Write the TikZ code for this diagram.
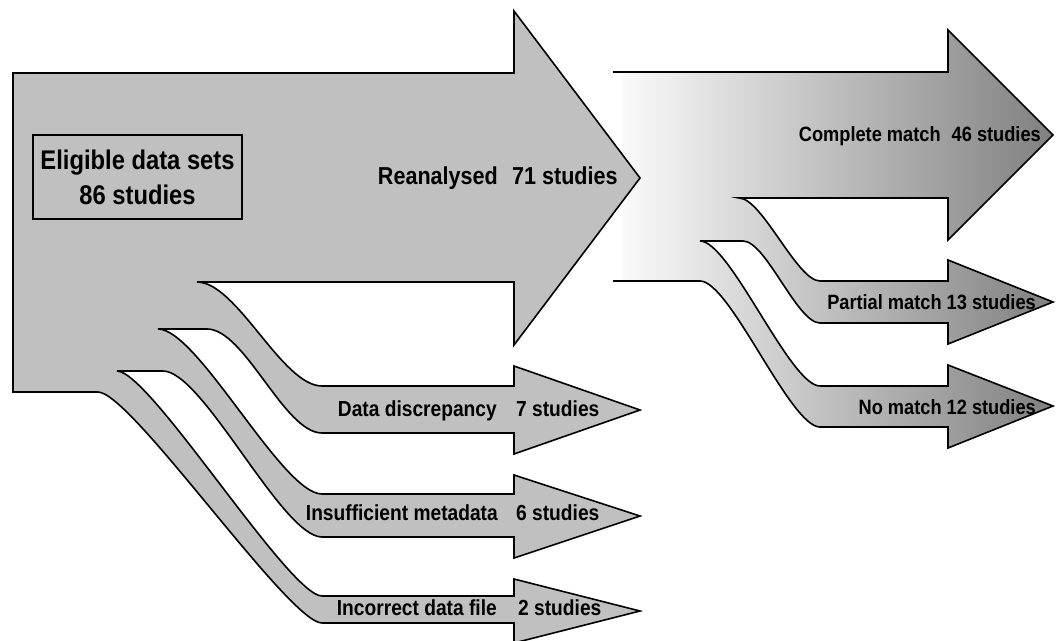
\documentclass[tikz,border=0pt]{standalone}
\usepackage{fontspec}
\setmainfont{Liberation Sans}
\newfontfamily\narrowsans{Liberation Sans}[FakeStretch=0.88]
\definecolor{flowgray}{RGB}{192,192,192}
\definecolor{gradL}{RGB}{250,250,250}
\definecolor{gradR}{RGB}{128,128,128}
\tikzset{
  edge/.style={draw=black, line width=1.6pt, line join=miter},
  lbl/.style={inner sep=0pt, text=black, font=\narrowsans\bfseries\fontsize{21.8}{24}\selectfont},
  rlbl/.style={inner sep=0pt, text=black, font=\narrowsans\bfseries\fontsize{20.7}{24}\selectfont},
  rightmid/.style={insert path={
    -- (948,72) -- (948,30) -- (1053,135) -- (948,240) -- (948,198) -- (739,198)
    .. controls (762,198) and (797,281) .. (820,281)
    -- (948,281) -- (948,260) -- (1053,302) -- (948,344) -- (948,323) -- (820,323)
    .. controls (797,323) and (766,241) .. (743,241)
    -- (700,241)
    .. controls (730,241) and (790,386) .. (820,386)
    -- (948,386) -- (948,365) -- (1053,406) -- (948,448) -- (948,427) -- (820,427)
    .. controls (790,427) and (730,281) .. (700,281)
  }}
}
\begin{document}
\begin{tikzpicture}[x=1pt,y=-1pt]
\useasboundingbox (0,0) rectangle (1059,640);
% right group (gradient)
\begin{scope}
  \clip (622,72) [rightmid] -- (622,281) -- cycle;
  \shade[left color=gradL, right color=gradR] (622,0) rectangle (1053,640);
\end{scope}
\draw[edge] (613,72) [rightmid] -- (613,281);
% left group
\filldraw[edge, fill=flowgray]
  (13,73) -- (514,73) -- (514,11) -- (640,178) -- (514,345) -- (514,282) -- (197,282)
  .. controls (237,282) and (282,386) .. (322,386)
  -- (514,386) -- (514,366) -- (640,410) -- (514,454) -- (514,433) -- (322,433)
  .. controls (284,433) and (245,329) .. (207,329)
  -- (158,329)
  .. controls (198,329) and (282,494) .. (322,494)
  -- (514,494) -- (514,475) -- (640,516) -- (514,558) -- (514,537) -- (322,537)
  .. controls (282,537) and (203,371) .. (163,371)
  -- (117,371)
  .. controls (150,371) and (289,596) .. (322,596)
  -- (514,596) -- (514,579) -- (640,611) -- (514,643) -- (514,623) -- (322,623)
  .. controls (289,623) and (131,392) .. (98,392)
  -- (13,392) -- cycle;
% source box
\node[draw=black, line width=1.6pt, minimum width=209pt, minimum height=84pt, inner sep=0pt,
      align=center, font=\narrowsans\bfseries\fontsize{27}{35}\selectfont] (src) at (137.5,177)
      {Eligible data sets\\86 studies};
% left labels
\node[lbl, anchor=base east, font=\narrowsans\bfseries\fontsize{24.5}{27}\selectfont] (reaL) at (498,184) {Reanalysed};
\node[lbl, anchor=base west, font=\narrowsans\bfseries\fontsize{24.5}{27}\selectfont] (reaN) at (512,184) {71 studies};
\node[lbl, anchor=base east] (ddL) at (497,416) {Data discrepancy};
\node[lbl, anchor=base west] (ddN) at (516,416) {7 studies};
\node[lbl, anchor=base east] (imL) at (498,520) {Insufficient metadata};
\node[lbl, anchor=base west] (imN) at (516,520) {6 studies};
\node[lbl, anchor=base east] (idL) at (497,615) {Incorrect data file};
\node[lbl, anchor=base west] (idN) at (518,615) {2 studies};
% right labels
\node[rlbl, anchor=base east] (cm) at (1041,141) {Complete match\hspace{6pt} 46 studies};
\node[rlbl, anchor=base east] (pm) at (1036,309) {Partial match 13 studies};
\node[rlbl, anchor=base east] (nm) at (1036,414) {No match 12 studies};
\end{tikzpicture}
\end{document}
